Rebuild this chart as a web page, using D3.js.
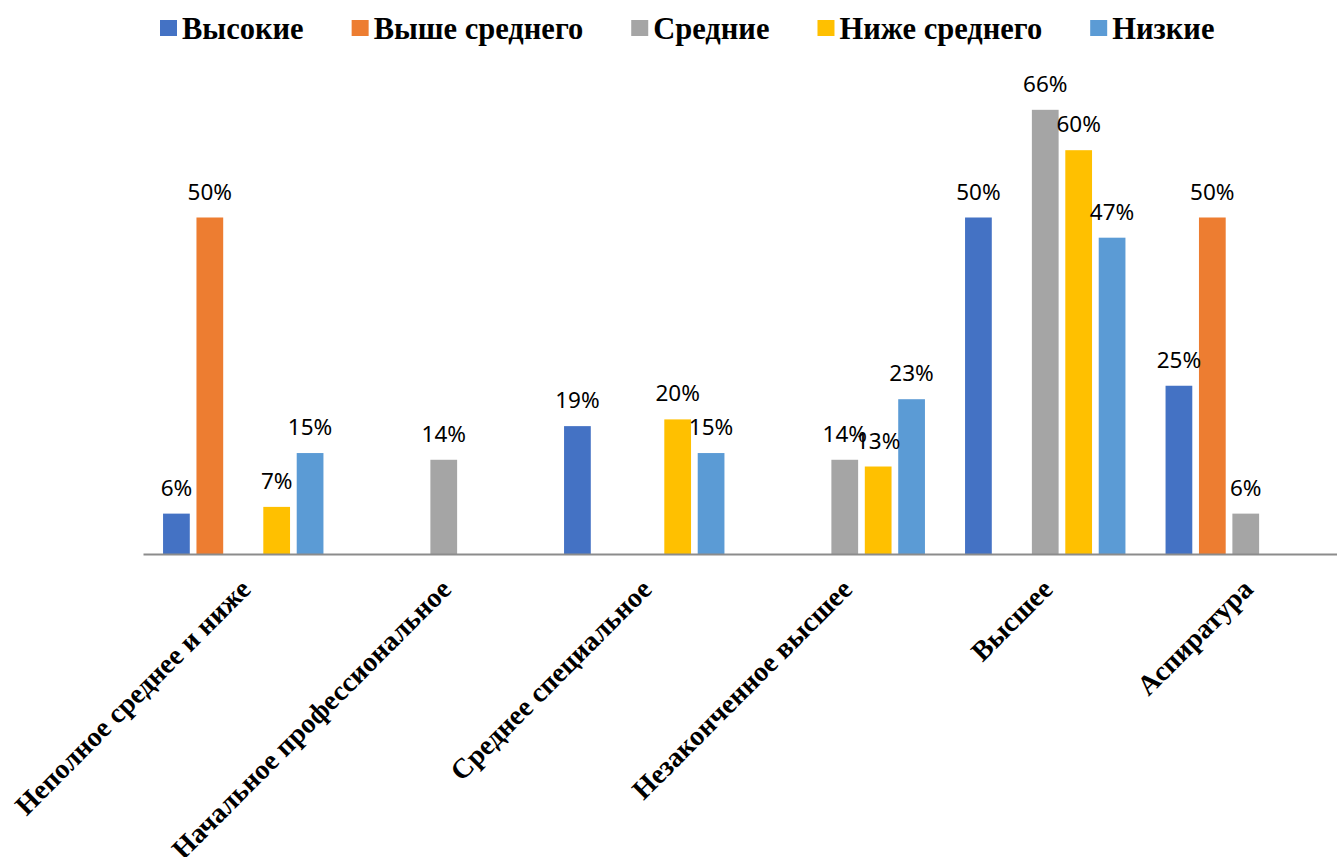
<!DOCTYPE html>
<html>
<head>
<meta charset="utf-8">
<script src="https://cdn.jsdelivr.net/npm/d3@7"></script>
<style>
  body { margin: 0; background: #fff; }
  svg { display: block; }
</style>
</head>
<body>
<svg id="chart" width="1337" height="857"></svg>
<script>
// категории и ряды
var categories = ['Неполное среднее и ниже', 'Начальное профессиональное', 'Среднее специальное',
                  'Незаконченное высшее', 'Высшее', 'Аспиратура'];
var seriesNames = ['Высокие', 'Выше среднего', 'Средние', 'Ниже среднего', 'Низкие'];
var colors = ['#4472C4', '#ED7D31', '#A5A5A5', '#FFC000', '#5B9BD5'];

// значения в %, null = нет столбца
var vysokie      = [6,    null, 19,   null, 50,   25];
var vysheSred    = [50,   null, null, null, null, 50];
var srednie      = [null, 14,   null, 14,   66,   6];
var nizheSred    = [7,    null, 20,   13,   60,   null];
var nizkie       = [15,   null, 15,   23,   47,   null];
var values = [vysokie, vysheSred, srednie, nizheSred, nizkie];

var svg = d3.select('#chart');
var baseY = 554;

var x0 = d3.scaleBand().domain(categories).range([143, 1346]).padding(0);
var x1 = d3.scaleBand().domain(seriesNames).range([0, x0.bandwidth()])
	.paddingInner(0.2).paddingOuter(0.6);
var y = d3.scaleLinear().domain([0, 70]).range([baseY, baseY - 70 * 6.73]);

var data = [];
categories.forEach(function(c, i) {
	seriesNames.forEach(function(s, j) {
		if (values[j][i] != null) data.push({cat: c, ser: s, idx: j, v: values[j][i]});
	});
});

// столбцы
svg.append('g').selectAll('rect')
	.data(data).enter()
	.append('rect')
	.attr('x', function(d) { return x0(d.cat) + x1(d.ser); })
	.attr('y', function(d) { return y(d.v); })
	.attr('width', x1.bandwidth())
	.attr('height', function(d) { return baseY - y(d.v); })
	.attr('fill', function(d) { return colors[d.idx]; });

// ось X
var xAxis = svg.append('g')
	.attr('transform', 'translate(0,' + baseY + ')')
	.call(d3.axisBottom(x0).tickSize(0).tickFormat(''));
xAxis.select('.domain').attr('stroke', '#8c8c8c').attr('stroke-width', 2.2);

svg.append('g').selectAll('text')
	.data(categories).enter()
	.append('text')
	.attr('transform', function(d) {
		return 'translate(' + (x0(d) + x0.bandwidth() / 2 + 2) + ',' + (baseY + 30) + ') rotate(-45)';
	})
	.attr('text-anchor', 'end')
	.attr('dy', '0.35em')
	.style('font-family', '"Liberation Serif", "Times New Roman", serif')
	.style('font-weight', 'bold')
	.style('font-size', '28px')
	.attr('fill', '#000')
	.text(function(d) { return d; });

// подписи значений
svg.append('g').selectAll('text')
	.data(data).enter()
	.append('text')
	.attr('x', function(d) { return x0(d.cat) + x1(d.ser) + x1.bandwidth() / 2; })
	.attr('y', function(d) { return y(d.v) - 18; })
	.attr('text-anchor', 'middle')
	.style('font-family', '"Noto Sans", "Open Sans", sans-serif')
	.style('font-size', '22.5px')
	.attr('fill', '#000')
	.text(function(d) { return d.v + '%'; });

// легенда
var legend = svg.append('g');
var lx = 160;
seriesNames.forEach(function(s, j) {
	legend.append('rect')
		.attr('x', lx).attr('y', 20).attr('width', 17).attr('height', 16)
		.attr('fill', colors[j]);
	var t = legend.append('text')
		.attr('x', lx + 22).attr('y', 39)
		.style('font-family', '"Liberation Serif", "Times New Roman", serif')
		.style('font-weight', 'bold')
		.style('font-size', '30.5px')
		.attr('fill', '#000')
		.text(s);
	lx += 22 + t.node().getComputedTextLength() + 48;
});
</script>
</body>
</html>
